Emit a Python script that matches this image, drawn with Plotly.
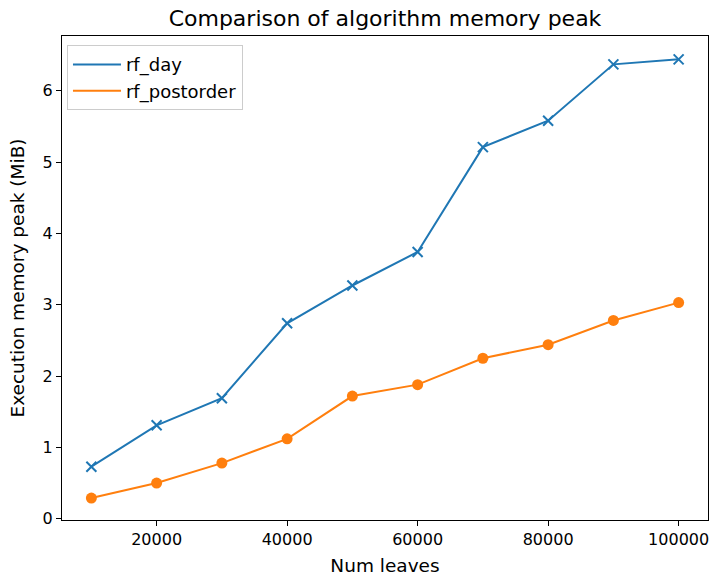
import plotly.graph_objects as go

num_leaves = [10000, 20000, 30000, 40000, 50000, 60000, 70000, 80000, 90000, 100000]
rf_day = [0.73, 1.31, 1.69, 2.74, 3.27, 3.74, 5.21, 5.58, 6.37, 6.44]
rf_postorder = [0.29, 0.50, 0.78, 1.12, 1.72, 1.88, 2.25, 2.44, 2.78, 3.03]

x_ticks = [20000, 40000, 60000, 80000, 100000]
y_ticks = [0, 1, 2, 3, 4, 5, 6]

BLUE = "#1f77b4"
ORANGE = "#ff7f0e"
FONT = "DejaVu Sans"

W, H = 715, 577

fig = go.Figure()
# lines (legend entries show only lines, like the reference)
fig.add_trace(go.Scatter(x=num_leaves, y=rf_day, mode="lines", name="rf_day",
                         line=dict(color=BLUE, width=2)))
fig.add_trace(go.Scatter(x=num_leaves, y=rf_postorder, mode="lines", name="rf_postorder",
                         line=dict(color=ORANGE, width=2)))
# markers
fig.add_trace(go.Scatter(x=num_leaves, y=rf_day, mode="markers", showlegend=False,
                         marker=dict(symbol="x-thin", size=10, color=BLUE,
                                     line=dict(color=BLUE, width=2))))
fig.add_trace(go.Scatter(x=num_leaves, y=rf_postorder, mode="markers", showlegend=False,
                         marker=dict(symbol="circle", size=11, color=ORANGE,
                                     line=dict(width=0))))

axis_common = dict(showgrid=False, zeroline=False, showline=True, linecolor="black",
                   linewidth=1, mirror=True, ticks="outside", ticklen=5, tickwidth=1,
                   tickcolor="black", automargin=False,
                   tickfont=dict(family=FONT, size=16, color="black"))

fig.update_layout(
    width=W, height=H,
    paper_bgcolor="white", plot_bgcolor="white",
    margin=dict(l=62, r=7, t=36, b=57),
    title=dict(text="Comparison of algorithm memory peak", x=385 / W,
               xanchor="center", y=1 - 18 / H, yanchor="middle",
               font=dict(family=FONT, size=22, color="black")),
    xaxis=dict(range=[5500, 104500], tickvals=x_ticks, tickformat="d",
               title=dict(text="Num leaves", font=dict(family=FONT, size=18.5, color="black"),
                          standoff=10),
               **axis_common),
    yaxis=dict(range=[-0.0175, 6.7675], tickvals=y_ticks,
               title=dict(text="Execution memory peak (MiB)",
                          font=dict(family=FONT, size=18.5, color="black"), standoff=13),
               **axis_common),
    legend=dict(x=0.0077, y=0.981, xanchor="left", yanchor="top", itemwidth=48,
                bgcolor="rgba(255,255,255,0.8)", bordercolor="#cccccc", borderwidth=1,
                font=dict(family=FONT, size=18, color="black")),
    showlegend=True,
)

# remove the page's default body margin so the figure fills the window exactly
fig.write_html("out.html", config={"displayModeBar": False},
               post_script="document.body.style.margin='0';")
